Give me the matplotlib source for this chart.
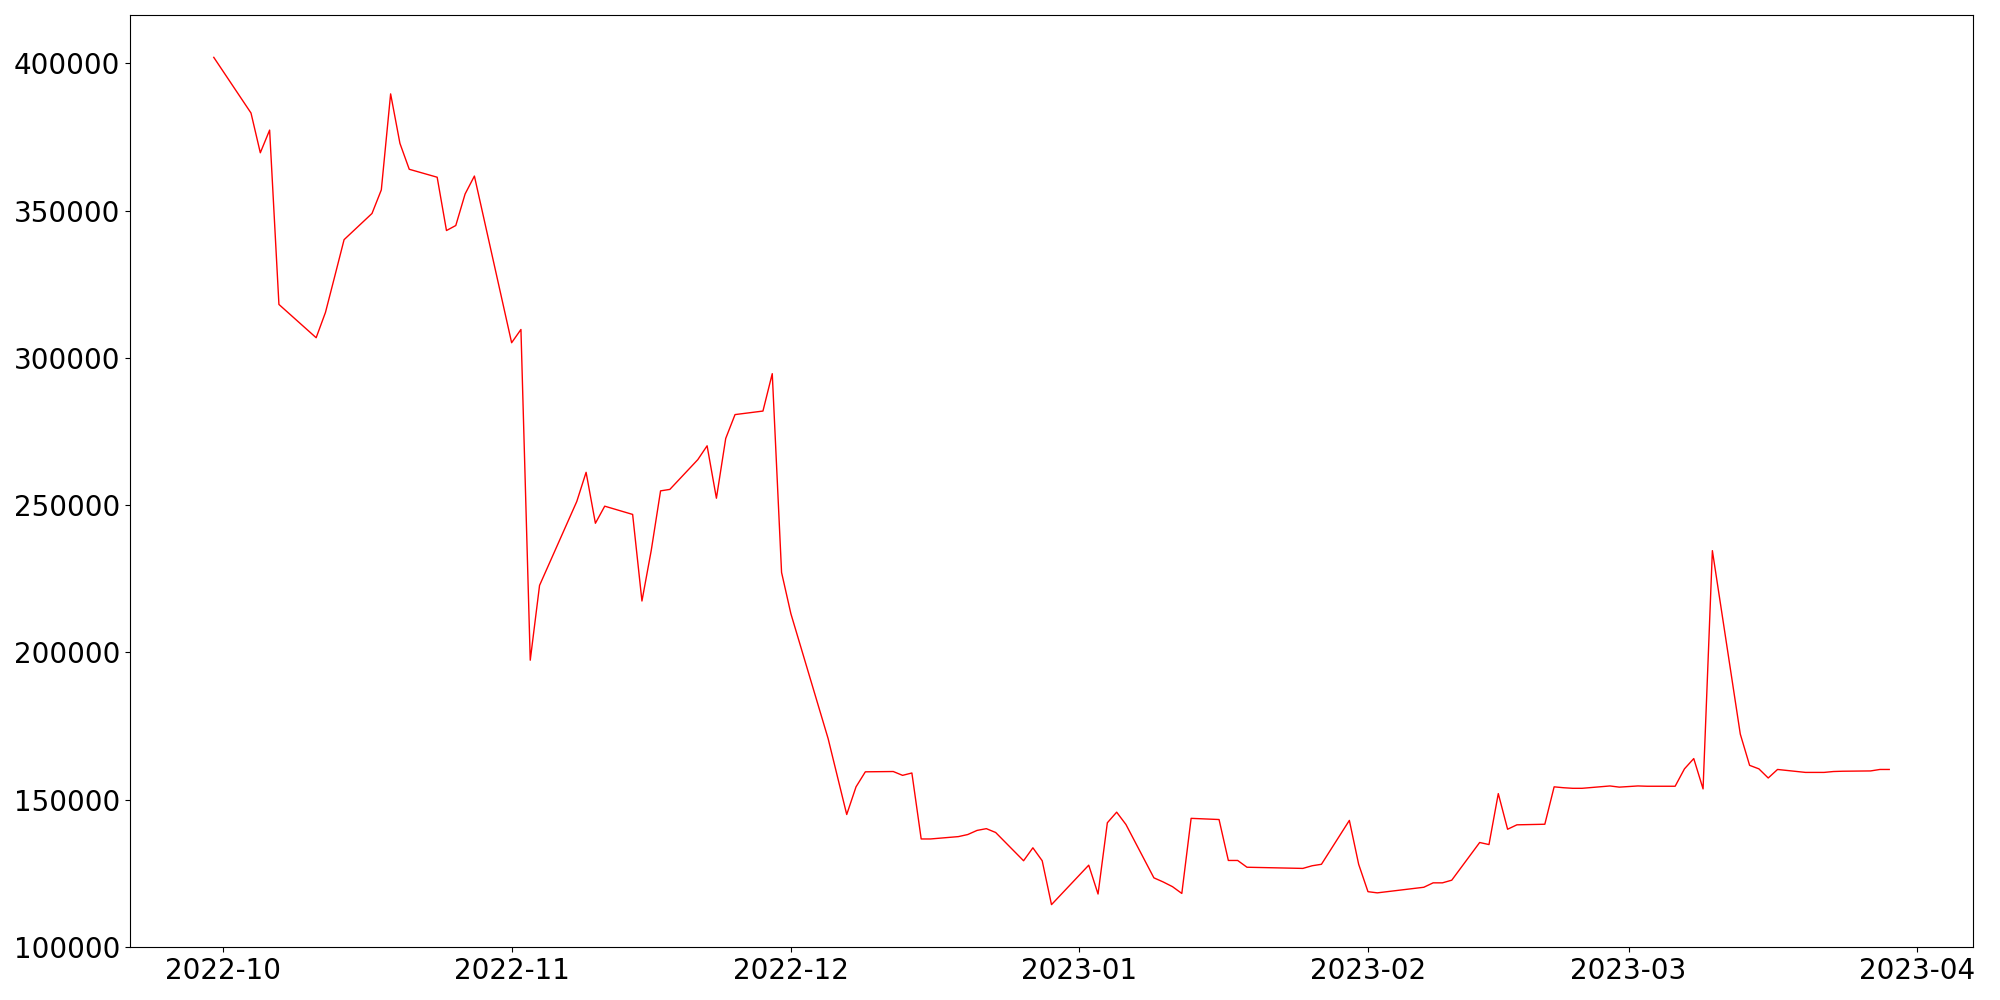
import matplotlib
matplotlib.use("Agg")
import matplotlib.pyplot as plt
import pandas as pd

dates = [
    "2022-09-30", "2022-10-04", "2022-10-05", "2022-10-06", "2022-10-07",
    "2022-10-11", "2022-10-12", "2022-10-13", "2022-10-14", "2022-10-17",
    "2022-10-18", "2022-10-19", "2022-10-20", "2022-10-21", "2022-10-24",
    "2022-10-25", "2022-10-26", "2022-10-27", "2022-10-28", "2022-11-01",
    "2022-11-02", "2022-11-03", "2022-11-04", "2022-11-08", "2022-11-09",
    "2022-11-10", "2022-11-11", "2022-11-14", "2022-11-15", "2022-11-16",
    "2022-11-17", "2022-11-18", "2022-11-21", "2022-11-22", "2022-11-23",
    "2022-11-24", "2022-11-25", "2022-11-28", "2022-11-29", "2022-11-30",
    "2022-12-01", "2022-12-05", "2022-12-07", "2022-12-08", "2022-12-09",
    "2022-12-12", "2022-12-13", "2022-12-14", "2022-12-15", "2022-12-16",
    "2022-12-19", "2022-12-20", "2022-12-21", "2022-12-22", "2022-12-23",
    "2022-12-26", "2022-12-27", "2022-12-28", "2022-12-29", "2023-01-02",
    "2023-01-03", "2023-01-04", "2023-01-05", "2023-01-06", "2023-01-09",
    "2023-01-10", "2023-01-11", "2023-01-12", "2023-01-13", "2023-01-16",
    "2023-01-17", "2023-01-18", "2023-01-19", "2023-01-25", "2023-01-26",
    "2023-01-27", "2023-01-30", "2023-01-31", "2023-02-01", "2023-02-02",
    "2023-02-07", "2023-02-08", "2023-02-09", "2023-02-10", "2023-02-13",
    "2023-02-14", "2023-02-15", "2023-02-16", "2023-02-17", "2023-02-20",
    "2023-02-21", "2023-02-22", "2023-02-23", "2023-02-24", "2023-02-27",
    "2023-02-28", "2023-03-01", "2023-03-02", "2023-03-03", "2023-03-06",
    "2023-03-07", "2023-03-08", "2023-03-09", "2023-03-10", "2023-03-13",
    "2023-03-14", "2023-03-15", "2023-03-16", "2023-03-17", "2023-03-20",
    "2023-03-21", "2023-03-22", "2023-03-23", "2023-03-24", "2023-03-27",
    "2023-03-28", "2023-03-29",
]

values = [
    402000, 383100, 369600, 377300, 318100,
    306800, 315400, 327700, 340100, 349000,
    357000, 389600, 372800, 364000, 361300,
    343200, 344900, 355600, 361700, 305100,
    309600, 197300, 222700, 251200, 261100,
    243800, 249600, 246800, 217400, 234600,
    254800, 255300, 265400, 270100, 252300,
    272600, 280700, 281900, 294600, 227100,
    213100, 170700, 144900, 154300, 159400,
    159500, 158200, 159000, 136600, 136600,
    137400, 138100, 139500, 140100, 138800,
    129200, 133600, 129200, 114300, 127700,
    117900, 142100, 145700, 141500, 123400,
    122000, 120400, 118100, 143600, 143200,
    129300, 129300, 127000, 126600, 127500,
    128000, 142900, 128000, 118700, 118300,
    120200, 121700, 121700, 122600, 135400,
    134700, 152000, 139900, 141400, 141600,
    154300, 154000, 153800, 153800, 154600,
    154200, 154400, 154600, 154500, 154500,
    160400, 163900, 153600, 234500, 172200,
    161600, 160400, 157300, 160200, 159200,
    159200, 159200, 159500, 159600, 159700,
    160200, 160200,
]

x = pd.to_datetime(dates)

fig, ax = plt.subplots(figsize=(20, 10), dpi=100)
ax.plot(x, values, color="red", linewidth=1)
ax.tick_params(axis="both", labelsize=20)
fig.subplots_adjust(left=0.065, right=0.9865, top=0.985, bottom=0.053)
fig.savefig("out.png", dpi=100)
